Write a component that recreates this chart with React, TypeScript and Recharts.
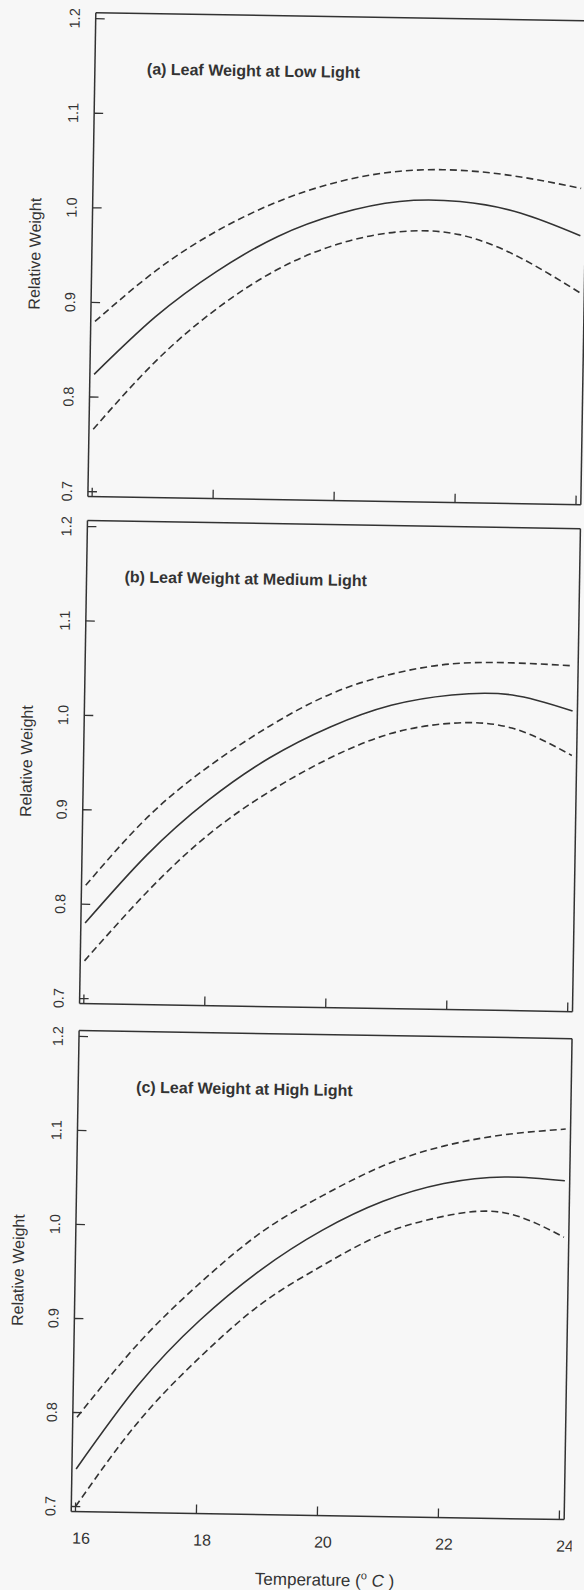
import { LineChart, Line, XAxis, YAxis } from "recharts"

// temperature grid (deg C)
const temps = [16, 17, 18, 19, 20, 21, 22, 23, 24]

// (a) low light
const lowFit = [0.824, 0.886, 0.935, 0.973, 0.998, 1.012, 1.013, 1.002, 0.979]
const lowUpper = [0.88, 0.935, 0.978, 1.01, 1.032, 1.044, 1.046, 1.04, 1.029]
const lowLower = [0.766, 0.838, 0.895, 0.938, 0.966, 0.98, 0.978, 0.955, 0.919]

// (b) medium light
const medFit = [0.78, 0.853, 0.912, 0.958, 0.992, 1.016, 1.028, 1.029, 1.013]
const medUpper = [0.82, 0.893, 0.948, 0.992, 1.027, 1.049, 1.061, 1.063, 1.061]
const medLower = [0.74, 0.813, 0.875, 0.922, 0.959, 0.986, 0.998, 0.994, 0.966]

// (c) high light
const highFit = [0.74, 0.83, 0.9, 0.955, 0.998, 1.03, 1.05, 1.058, 1.055]
const highUpper = [0.795, 0.875, 0.94, 0.995, 1.035, 1.068, 1.09, 1.103, 1.11]
const highLower = [0.7, 0.79, 0.86, 0.918, 0.96, 0.995, 1.015, 1.02, 0.995]

const yTicks = [0.7, 0.8, 0.9, 1.0, 1.1, 1.2]
const xTicks = [16, 18, 20, 22, 24]

const INK = "#333"
const FONT = "'Liberation Sans', Arial, Helvetica, sans-serif"
const X_DOMAIN = [15.93, 24.08]
const Y_DOMAIN = [0.6947, 1.2063]

const toRows = (fit: number[], upper: number[], lower: number[]) =>
  temps.map((t, i) => ({ t, fit: fit[i], upper: upper[i], lower: lower[i] }))

const panels = [
  { title: "(a) Leaf Weight at Low Light", rows: toRows(lowFit, lowUpper, lowLower), top: 0, padTop: 16, plotH: 484, padBottom: 10, titleDx: 52, last: false },
  { title: "(b) Leaf Weight at Medium Light", rows: toRows(medFit, medUpper, medLower), top: 510, padTop: 14, plotH: 483, padBottom: 8, titleDx: 38, last: false },
  { title: "(c) Leaf Weight at High Light", rows: toRows(highFit, highUpper, highLower), top: 1015, padTop: 19, plotH: 481, padBottom: 75, titleDx: 58, last: true },
]

const YTick = ({ x, y, payload }: any) => (
  <g>
    <line x1={x} y1={y} x2={x + 9} y2={y} stroke={INK} strokeWidth={1.3} />
    <text
      x={x - 21}
      y={y}
      transform={`rotate(-90 ${x - 21} ${y})`}
      textAnchor="middle"
      dominantBaseline="central"
      fontSize={14.5}
      fontFamily={FONT}
      fill={INK}
    >
      {Number(payload.value).toFixed(1)}
    </text>
  </g>
)

const makeXTick = (showLabel: boolean) => ({ x, y, payload }: any) => (
  <g>
    <line x1={x} y1={y} x2={x} y2={y - 9} stroke={INK} strokeWidth={1.3} />
    {showLabel && (
      <text x={x + 6} y={y + 32} textAnchor="middle" fontSize={16} fontFamily={FONT} fill={INK}>
        {payload.value}
      </text>
    )}
  </g>
)

function Panel({ p }: { p: (typeof panels)[number] }) {
  const height = p.padTop + p.plotH + p.padBottom
  return (
    <div style={{ position: "absolute", left: 0, top: p.top }}>
      <LineChart width={584} height={height} data={p.rows} margin={{ top: 0, right: 0, bottom: 0, left: 0 }}>
        <XAxis
          dataKey="t"
          type="number"
          domain={X_DOMAIN}
          ticks={xTicks}
          allowDataOverflow
          height={p.padBottom}
          tickSize={0}
          tickMargin={0}
          tickLine={false}
          axisLine={{ stroke: INK, strokeWidth: 1.5 }}
          tick={makeXTick(p.last)}
          interval={0}
          label={
            p.last
              ? {
                  content: (props: any) => {
                    const vb = props.viewBox
                    return (
                      <text x={vb.x + vb.width / 2 + 8} y={vb.y + 70} textAnchor="middle" fontSize={17} fontFamily={FONT} fill={INK}>
                        Temperature (
                        <tspan dy={-7} fontSize={11}>o</tspan>
                        <tspan dy={7}> </tspan>
                        <tspan fontStyle="italic">C</tspan> )
                      </text>
                    )
                  },
                }
              : undefined
          }
        />
        <XAxis
          xAxisId="top"
          orientation="top"
          dataKey="t"
          type="number"
          domain={X_DOMAIN}
          allowDataOverflow
          height={p.padTop}
          tick={false}
          tickLine={false}
          axisLine={{ stroke: INK, strokeWidth: 1.5 }}
          label={{
            content: (props: any) => {
              const vb = props.viewBox
              return (
                <text x={vb.x + p.titleDx} y={vb.y + vb.height + 61} fontSize={16} fontWeight="bold" fontFamily={FONT} fill={INK}>
                  {p.title}
                </text>
              )
            },
          }}
        />
        <YAxis
          type="number"
          domain={Y_DOMAIN}
          ticks={yTicks}
          allowDataOverflow
          width={83}
          tickSize={0}
          tickMargin={0}
          tickLine={false}
          axisLine={{ stroke: INK, strokeWidth: 1.5 }}
          tick={YTick}
          interval={0}
          label={{
            content: (props: any) => {
              const vb = props.viewBox
              const cx = vb.x + vb.width - 57
              const cy = vb.y + vb.height / 2
              return (
                <text
                  x={cx}
                  y={cy}
                  transform={`rotate(-90 ${cx} ${cy})`}
                  textAnchor="middle"
                  dominantBaseline="central"
                  fontSize={16}
                  fontFamily={FONT}
                  fill={INK}
                >
                  Relative Weight
                </text>
              )
            },
          }}
        />
        <YAxis
          yAxisId="right"
          orientation="right"
          type="number"
          domain={Y_DOMAIN}
          allowDataOverflow
          width={8}
          tick={false}
          tickLine={false}
          axisLine={{ stroke: INK, strokeWidth: 1.5 }}
        />
        <Line dataKey="upper" type="natural" stroke={INK} strokeWidth={1.6} strokeDasharray="7 4" dot={false} isAnimationActive={false} />
        <Line dataKey="fit" type="natural" stroke={INK} strokeWidth={1.6} dot={false} isAnimationActive={false} />
        <Line dataKey="lower" type="natural" stroke={INK} strokeWidth={1.6} strokeDasharray="7 4" dot={false} isAnimationActive={false} />
      </LineChart>
    </div>
  )
}

export default function App() {
  return (
    <div style={{ position: "fixed", left: 0, top: 0, width: 584, height: 1590, overflow: "hidden", background: "#f7f7f7" }}>
      <div style={{ position: "absolute", left: 0, top: 0, width: 584, height: 1590, transform: "rotate(0.94deg)", transformOrigin: "292px 795px" }}>
        {panels.map((p) => (
          <Panel key={p.title} p={p} />
        ))}
      </div>
    </div>
  )
}
